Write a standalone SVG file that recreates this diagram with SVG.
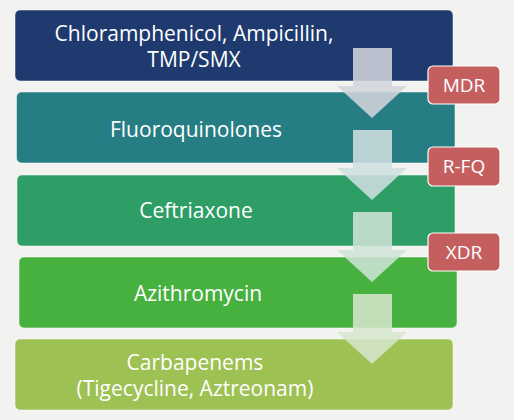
<svg xmlns="http://www.w3.org/2000/svg" width="514" height="420" viewBox="0 0 514 420">
<style>
.bx{stroke:#ffffff;stroke-opacity:0.5;stroke-width:1}
.t{font-family:"Open Sans","Liberation Sans",sans-serif;font-size:21px;fill:#ffffff;text-anchor:middle}
.bd{fill:#c55f5f;stroke:#ffffff;stroke-width:1.2}
.bt{font-family:"Open Sans","Liberation Sans",sans-serif;font-size:19px;fill:#ffffff;text-anchor:middle}
</style>
<defs>
<path id="arr" d="M353,0 H392 V38 H407 L372,70 L337,38 H353 Z"/>
</defs>
<rect width="514" height="420" fill="#f2f2f0"/>
<g id="node1"><rect class="bx" x="15" y="10" width="438" height="71" rx="5" fill="#1e3a6e"/>
<text class="t" x="194" y="41">Chloramphenicol, Ampicillin,</text><text class="t" x="194" y="67">TMP/SMX</text></g>
<g id="node2"><rect class="bx" x="16.5" y="92" width="438.5" height="71" rx="5" fill="#267e84"/>
<text class="t" x="196" y="137">Fluoroquinolones</text></g>
<g id="node3"><rect class="bx" x="17" y="175" width="438" height="71" rx="5" fill="#2e9e66"/>
<text class="t" x="196" y="218">Ceftriaxone</text></g>
<g id="node4"><rect class="bx" x="19" y="257" width="438" height="71" rx="5" fill="#47b13f"/>
<text class="t" x="198" y="301">Azithromycin</text></g>
<g id="node5"><rect class="bx" x="15" y="339" width="438" height="71" rx="5" fill="#9dc153"/>
<text class="t" x="195" y="370">Carbapenems</text><text class="t" x="195" y="396">(Tigecycline, Aztreonam)</text></g>
<g id="connectors">
<use href="#arr" y="48" fill="#d2d5dc" fill-opacity="0.87"/>
<use href="#arr" y="130" fill="#d0dfe0" fill-opacity="0.87"/>
<use href="#arr" y="212" fill="#cfe4d6" fill-opacity="0.87"/>
<use href="#arr" y="294" fill="#d6e6cc" fill-opacity="0.87"/>
</g>
<g id="badge-mdr"><rect class="bd" x="428" y="66" width="72" height="38" rx="5"/><text class="bt" x="464" y="92">MDR</text></g>
<g id="badge-rfq"><rect class="bd" x="428" y="147" width="72" height="39" rx="5"/><text class="bt" x="464" y="173">R-FQ</text></g>
<g id="badge-xdr"><rect class="bd" x="428" y="233" width="72" height="38" rx="5"/><text class="bt" x="464" y="259">XDR</text></g>
</svg>
